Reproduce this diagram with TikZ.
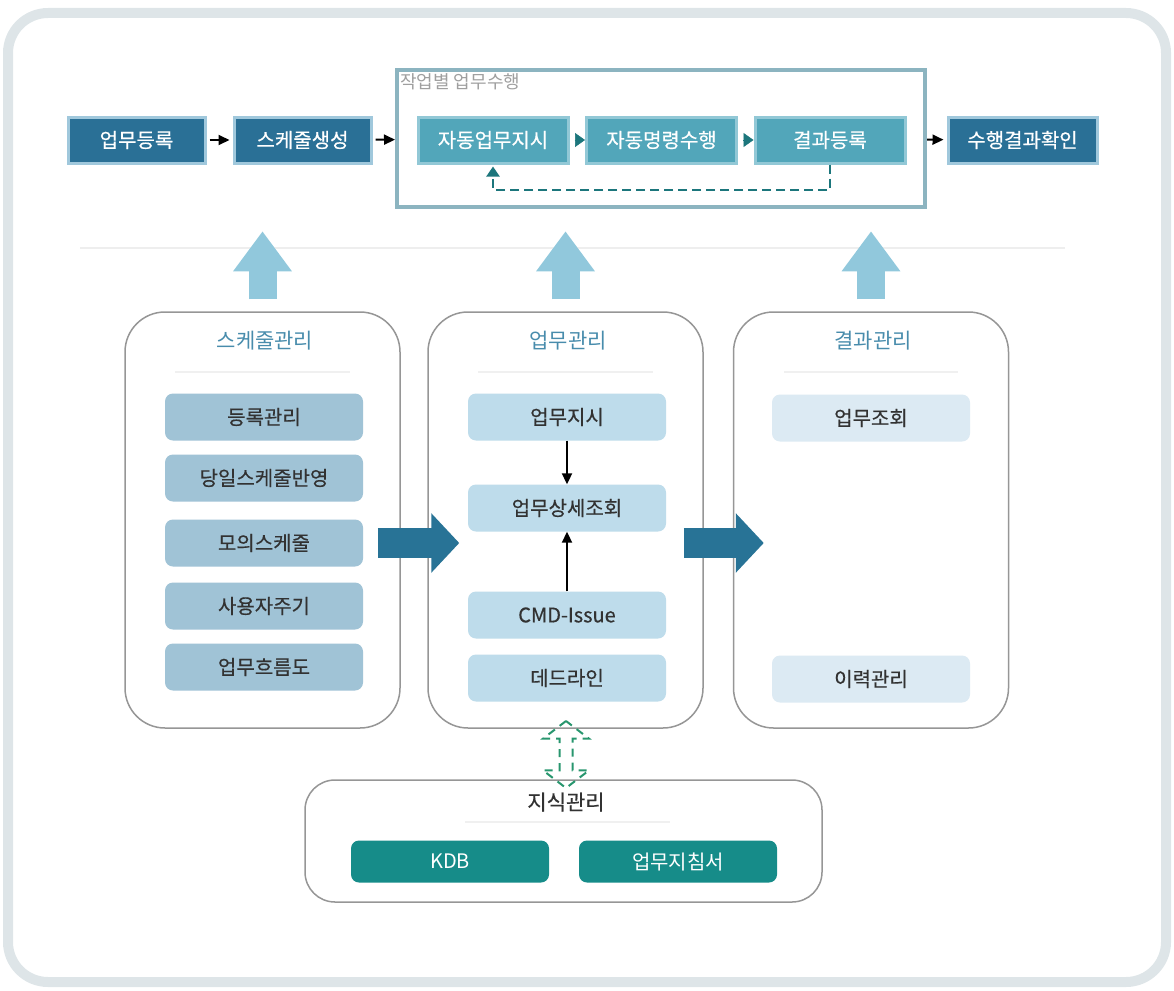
\documentclass[tikz,border=0pt]{standalone}
\usepackage{fontspec}
\setmainfont{Noto Sans CJK KR}
\newfontfamily\medfont[FakeBold=0.5]{Noto Sans CJK KR}
\usetikzlibrary{arrows.meta,shapes.arrows}

\definecolor{darkbox}{RGB}{42,112,150}
\definecolor{darkrim}{RGB}{160,200,220}
\definecolor{midbox}{RGB}{82,166,186}
\definecolor{midrim}{RGB}{146,200,214}
\definecolor{framecol}{RGB}{140,180,192}
\definecolor{tealtip}{RGB}{28,118,124}
\definecolor{upblue}{RGB}{145,200,220}
\definecolor{bigblue}{RGB}{40,115,150}
\definecolor{panelrim}{RGB}{150,150,150}
\definecolor{titleblue}{RGB}{72,140,172}
\definecolor{itemA}{RGB}{160,195,214}
\definecolor{itemB}{RGB}{190,220,235}
\definecolor{itemC}{RGB}{220,234,243}
\definecolor{kdbteal}{RGB}{22,140,137}
\definecolor{linkgreen}{RGB}{40,150,110}
\definecolor{outerrim}{RGB}{222,229,232}
\definecolor{inktext}{RGB}{50,50,50}

\tikzset{
  topbox/.style={shape=rectangle,fill=darkbox,draw=darkrim,line width=3pt,
    minimum width=137pt,minimum height=46pt,text=white,
    font=\medfont\fontsize{20}{24}\selectfont},
  autobox/.style={topbox,fill=midbox,draw=midrim,minimum width=150pt},
  panel/.style={shape=rectangle,draw=panelrim,line width=1.5pt,fill=white,
    rounded corners=40pt,minimum width=275pt,minimum height=416pt},
  paneltitle/.style={text=titleblue,font=\fontsize{21}{25}\selectfont},
  item/.style={shape=rectangle,rounded corners=8pt,minimum width=198pt,
    minimum height=47pt,text=inktext,font=\medfont\fontsize{20}{24}\selectfont},
  flow/.style={-{Triangle[length=11pt,width=10pt]},line width=2pt,black},
  tiponly/.style={-{Triangle[length=10pt,width=14pt]},line width=0.5pt,tealtip,
    shorten <=5pt},
  bigarrow/.style={-{Triangle[length=28pt,width=58pt]},line width=30pt,bigblue},
  uparrow/.style={-{Triangle[length=40pt,width=56pt]},line width=28pt,upblue},
  sepline/.style={line width=2pt,gray!12}
}

\begin{document}
\begin{tikzpicture}[x=1pt,y=-1pt]
    \useasboundingbox (0,0) rectangle (1174,990);
    \draw[line width=10pt,outerrim,rounded corners=40pt] (8,13) rectangle (1166,982);

    % top row
    \node[shape=rectangle,draw=framecol,line width=4pt,fill=white,
      minimum width=528pt,minimum height=137pt] (ExecFrame) at (661,138.5) {};
    \node[anchor=north west,text=gray!75,font=\fontsize{18}{21}\selectfont,inner sep=2pt]
      (ExecLabel) at ([xshift=3pt,yshift=-3pt]ExecFrame.north west) {작업별 업무수행};
    \node[topbox] (TaskReg) at (136.5,140) {업무등록};
    \node[topbox] (SchedGen) at (302.5,140) {스케줄생성};
    \node[autobox] (AutoOrder) at (493,140) {자동업무지시};
    \node[autobox] (AutoCmd) at (661.5,140) {자동명령수행};
    \node[autobox] (ResultReg) at (830,140) {결과등록};
    \node[topbox,minimum width=149pt] (ResultCheck) at (1022.5,140) {수행결과확인};

    \path[flow,shorten <=3pt,shorten >=3pt] (TaskReg) edge (SchedGen);
    \path[flow,shorten <=3pt] (SchedGen) edge (ExecFrame);
    \path[flow,shorten >=3pt] (ExecFrame) edge (ResultCheck);
    \draw[tiponly] (AutoOrder) -- (AutoCmd);
    \draw[tiponly] (AutoCmd) -- (ResultReg);
    \draw[tealtip,line width=2pt,dash pattern=on 9pt off 5pt,
      -{Triangle[length=10pt,width=13pt]},shorten >=2pt]
      (ResultReg.south) -- ++(0,25) -| (AutoOrder.south);

    \draw[line width=1.5pt,gray!13] (80,248) -- (1065,248);

    % three panels
    \node[panel] (SchedPanel) at (262.5,520) {};
    \node[panel] (TaskPanel) at (565.5,520) {};
    \node[panel] (ResultPanel) at (871,520) {};

    \draw[uparrow,shorten <=12pt] (SchedPanel.north) -- ++(0,-80);
    \draw[uparrow,shorten <=12pt] (TaskPanel.north) -- ++(0,-80);
    \draw[uparrow,shorten <=12pt] (ResultPanel.north) -- ++(0,-80);

    \node[paneltitle] (SchedTitle) at (265,341) {스케줄관리};
    \node[paneltitle] (TaskTitle) at (568,341) {업무관리};
    \node[paneltitle] (ResultTitle) at (873,341) {결과관리};
    \draw[sepline] (175,372) -- (350,372);
    \draw[sepline] (478,372) -- (653,372);
    \draw[sepline] (784,372) -- (958,372);

    \node[item,fill=itemA] (RegMgmt) at (264,417) {등록관리};
    \node[item,fill=itemA] (TodaySched) at (264,478) {당일스케줄반영};
    \node[item,fill=itemA] (SimSched) at (264,543) {모의스케줄};
    \node[item,fill=itemA] (UserCycle) at (264,606) {사용자주기};
    \node[item,fill=itemA] (WorkFlow) at (264,667) {업무흐름도};

    \node[item,fill=itemB] (TaskOrder) at (567,417) {업무지시};
    \node[item,fill=itemB] (TaskDetail) at (567,508) {업무상세조회};
    \node[item,fill=itemB] (CmdIssue) at (567,615) {CMD-Issue};
    \node[item,fill=itemB] (Deadline) at (567,678) {데드라인};
    \path[flow] (TaskOrder) edge (TaskDetail);
    \path[flow] (CmdIssue) edge (TaskDetail);

    \node[item,fill=itemC] (TaskQuery) at (871,418) {업무조회};
    \node[item,fill=itemC] (History) at (871,679) {이력관리};

    \draw[bigarrow,shorten <=-23pt,shorten >=-32pt]
      (SchedPanel.east |- SimSched) -- (TaskPanel.west |- SimSched);
    \draw[bigarrow,shorten <=-20pt,shorten >=-31pt]
      (TaskPanel.east |- SimSched) -- (ResultPanel.west |- SimSched);

    % knowledge block
    \node[shape=rectangle,draw=panelrim,line width=1.5pt,rounded corners=30pt,
      minimum width=517pt,minimum height=122pt] (KnowPanel) at (563.5,841) {};
    \node[text=inktext,font=\medfont\fontsize{21}{25}\selectfont] (KnowTitle) at (566,802) {지식관리};
    \draw[sepline] (465,822) -- (670,822);
    \node[item,fill=kdbteal,text=white,minimum height=42pt,
      font=\fontsize{20}{24}\selectfont] (KDB) at (450,861.5) {KDB};
    \node[item,fill=kdbteal,text=white,minimum height=42pt,
      font=\fontsize{20}{24}\selectfont] (Guide) at (678,861.5) {업무지침서};

    \node[double arrow,draw=linkgreen,line width=2pt,dash pattern=on 8pt off 6pt,
      rotate=90,minimum height=67pt,minimum width=46pt,
      double arrow head extend=11pt,double arrow tip angle=105] (KnowLink) at (566,754.5) {};
\end{tikzpicture}
\end{document}
